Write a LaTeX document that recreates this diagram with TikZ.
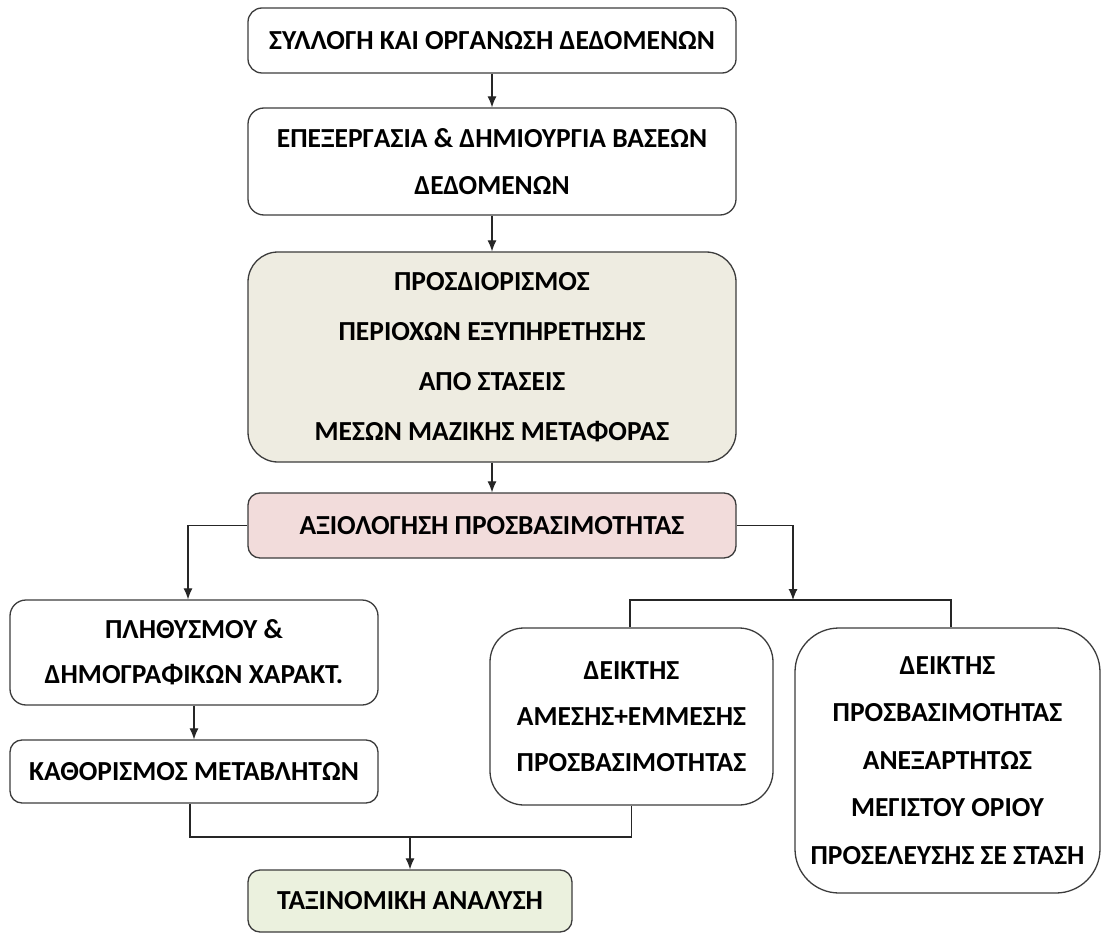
\documentclass[tikz,border=0pt]{standalone}
\usepackage{fontspec}
\setmainfont{Carlito}
\usetikzlibrary{arrows.meta,calc}
\definecolor{bordergray}{HTML}{3C3C3C}
\definecolor{beige}{HTML}{EEECE1}
\definecolor{pinkbox}{HTML}{F2DCDB}
\definecolor{greenbox}{HTML}{EBF1DE}
\begin{document}
\begin{tikzpicture}[x=1pt,y=-1pt,
  box/.style={draw=bordergray,line width=1.3pt,fill=white,rectangle,inner sep=0pt,
    align=center,font=\fontsize{27.5}{47}\selectfont\bfseries,text=black},
  conn/.style={line width=1.1pt,draw=black!85},
  arr/.style={conn,-{Latex[length=11pt,width=9pt]}}]
\fill[white] (0,0) rectangle (1101,936);
\useasboundingbox (0,0) rectangle (1101,936);

\node[box,rounded corners=14pt,minimum width=488pt,minimum height=65pt] (top) at (492,40.5)
  {ΣΥΛΛΟΓΗ ΚΑΙ ΟΡΓΑΝΩΣΗ ΔΕΔΟΜΕΝΩΝ};
\node[box,rounded corners=16pt,minimum width=488pt,minimum height=107pt] (epex) at (492,161.5)
  {ΕΠΕΞΕΡΓΑΣΙΑ \& ΔΗΜΙΟΥΡΓΙΑ ΒΑΣΕΩΝ\\ΔΕΔΟΜΕΝΩΝ};
\node[box,fill=beige,rounded corners=30pt,minimum width=488pt,minimum height=210pt,
  font=\fontsize{27.5}{50}\selectfont\bfseries] (pros) at (492,357)
  {ΠΡΟΣΔΙΟΡΙΣΜΟΣ\\ΠΕΡΙΟΧΩΝ ΕΞΥΠΗΡΕΤΗΣΗΣ\\ΑΠΟ ΣΤΑΣΕΙΣ\\ΜΕΣΩΝ ΜΑΖΙΚΗΣ ΜΕΤΑΦΟΡΑΣ};
\node[box,fill=pinkbox,rounded corners=12pt,minimum width=488pt,minimum height=65pt] (axiol) at (492,525.5)
  {ΑΞΙΟΛΟΓΗΣΗ ΠΡΟΣΒΑΣΙΜΟΤΗΤΑΣ};
\node[box,rounded corners=16pt,minimum width=368pt,minimum height=105pt,
  font=\fontsize{27.5}{45}\selectfont\bfseries] (plith) at (194,652.5)
  {ΠΛΗΘΥΣΜΟΥ \&\\ΔΗΜΟΓΡΑΦΙΚΩΝ ΧΑΡΑΚΤ.};
\node[box,rounded corners=12pt,minimum width=368pt,minimum height=63pt] (kath) at (194,771.5)
  {ΚΑΘΟΡΙΣΜΟΣ ΜΕΤΑΒΛΗΤΩΝ};
\node[box,rounded corners=34pt,minimum width=283pt,minimum height=177pt,
  font=\fontsize{27.5}{46}\selectfont\bfseries] (deik1) at (631.5,716.5)
  {ΔΕΙΚΤΗΣ\\ΑΜΕΣΗΣ+ΕΜΜΕΣΗΣ\\ΠΡΟΣΒΑΣΙΜΟΤΗΤΑΣ};
\node[box,rounded corners=44pt,minimum width=305pt,minimum height=265pt,
  font=\fontsize{27.5}{47.5}\selectfont\bfseries] (deik2) at (947.5,760.5)
  {ΔΕΙΚΤΗΣ\\ΠΡΟΣΒΑΣΙΜΟΤΗΤΑΣ\\ΑΝΕΞΑΡΤΗΤΩΣ\\ΜΕΓΙΣΤΟΥ ΟΡΙΟΥ\\ΠΡΟΣΕΛΕΥΣΗΣ ΣΕ ΣΤΑΣΗ};
\node[box,fill=greenbox,rounded corners=12pt,minimum width=324pt,minimum height=62pt] (tax) at (410,901)
  {ΤΑΞΙΝΟΜΙΚΗ ΑΝΑΛΥΣΗ};

\coordinate (jr) at (793,600);
\coordinate (jb) at (410,837);

\draw[arr] (top) -- (epex);
\draw[arr] (epex) -- (pros);
\draw[arr] (pros) -- (axiol);
\draw[arr] (axiol.west) -| ([xshift=-6pt]plith.north);
\draw[arr] (axiol.east) -| (jr);
\draw[conn] ([xshift=-1.5pt]deik1.north) |- (jr) -| ([xshift=3.5pt]deik2.north);
\draw[arr] (plith) -- (kath);
\draw[conn] ([xshift=-4pt]kath.south) |- (jb) -| (deik1.south);
\draw[arr] (jb) -- (tax.north);
\end{tikzpicture}
\end{document}
